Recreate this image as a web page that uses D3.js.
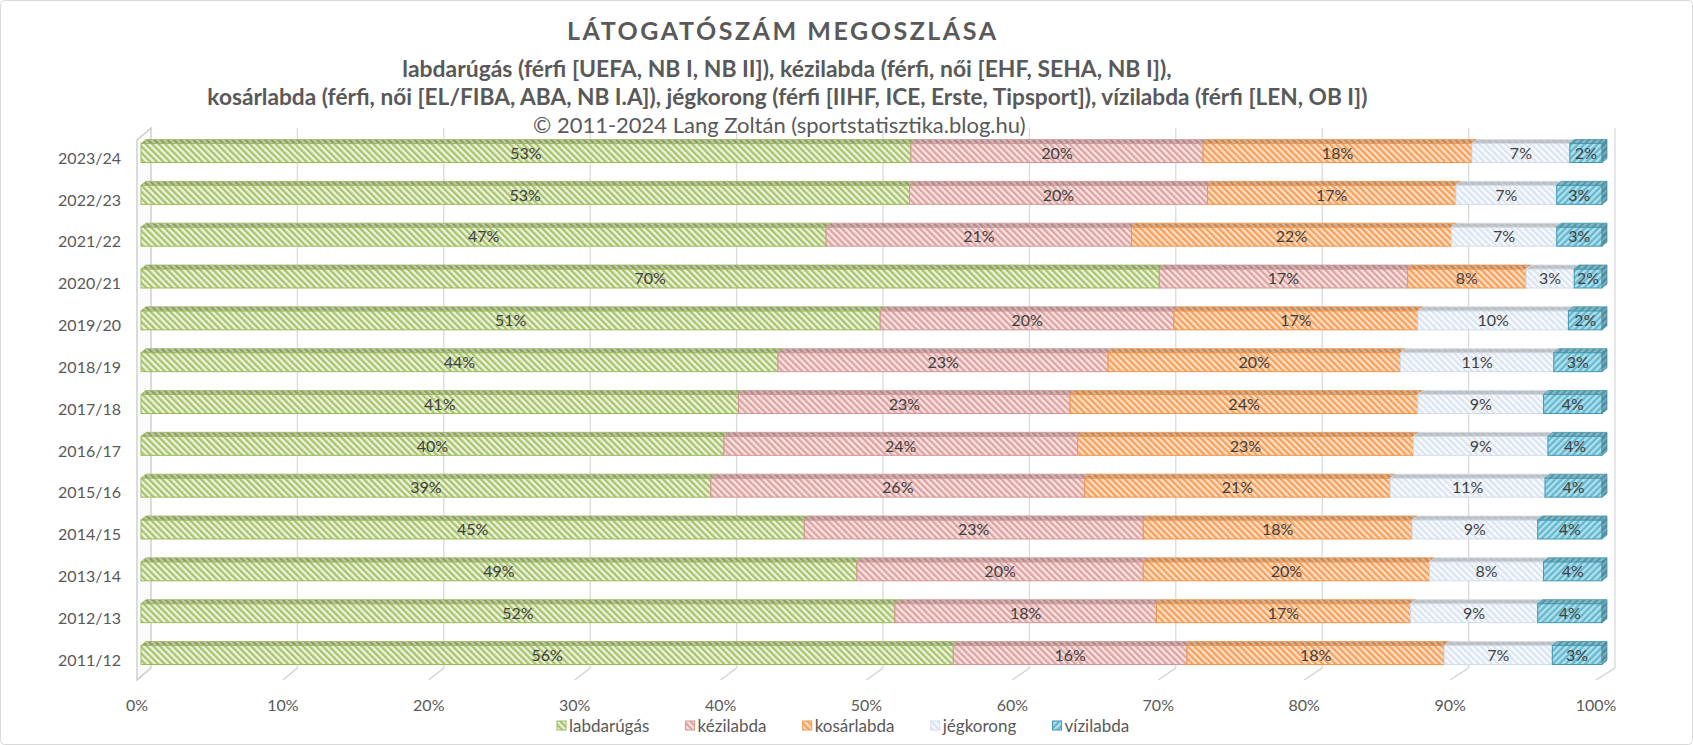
<!DOCTYPE html>
<html><head><meta charset="utf-8">
<script src="https://cdn.jsdelivr.net/npm/d3@7"></script>
<style>
body{margin:0;background:#fff}
svg{display:block}
text{font-family:Lato,"Open Sans",sans-serif}
</style>
</head><body>
<svg id="c" width="1693" height="745"></svg>
<script>
// ---------- data ----------
const seasons = ["2023/24","2022/23","2021/22","2020/21","2019/20","2018/19","2017/18","2016/17","2015/16","2014/15","2013/14","2012/13","2011/12"];
const seriesNames = ["labdarúgás","kézilabda","kosárlabda","jégkorong","vízilabda"];
const labdarugas = [52.7,52.6,46.9,69.7,50.6,43.6,40.9,39.9,39.0,45.4,49.0,51.6,55.6];
const kezilabda  = [20.0,20.4,20.9,17.0,20.1,22.6,22.7,24.2,25.6,23.2,19.6,17.9,16.0];
const kosarlabda = [18.4,17.0,21.9, 8.1,16.7,20.0,23.8,23.0,20.9,18.4,19.6,17.4,17.6];
const jegkorong  = [ 6.7, 6.9, 7.2, 3.3,10.3,10.5, 8.6, 9.2,10.6, 8.6, 7.8, 8.7, 7.4];
const vizilabda  = [ 2.2, 3.1, 3.1, 1.9, 2.3, 3.3, 4.0, 3.7, 3.9, 4.4, 4.0, 4.4, 3.4];
const xTicks = [0,10,20,30,40,50,60,70,80,90,100];
const titleText = "LÁTOGATÓSZÁM MEGOSZLÁSA";
const subtitle1 = "labdarúgás (férfi [UEFA, NB I, NB II]), kézilabda (férfi, női [EHF, SEHA, NB I]),";
const subtitle2 = "kosárlabda (férfi, női [EL/FIBA, ABA, NB I.A]), jégkorong (férfi [IIHF, ICE, Erste, Tipsport]), vízilabda (férfi [LEN, OB I])";
const copyright = "© 2011-2024 Lang Zoltán (sportstatisztika.blog.hu)";

// ---------- styles ----------
const styles = [
  {bg:"#edf3e0", fg:"#a7c46a", stroke:"#9bbb59", angle:-45},
  {bg:"#f8e3e2", fg:"#dca3a1", stroke:"#d39795", angle:-45},
  {bg:"#fde0c8", fg:"#f7a05a", stroke:"#f3954a", angle:-45},
  {bg:"#f8fafd", fg:"#dbe5f1", stroke:"#d3dcea", angle:-45},
  {bg:"#62b8d0", fg:"#b4e0ec", stroke:"#3f98b0", angle:45}
];

const W = 1693, H = 745;
const svg = d3.select("#c");
const defs = svg.append("defs");
styles.forEach((s,i)=>{
  const size = 4.6;
  const p = defs.append("pattern").attr("id","pat"+i)
    .attr("patternUnits","userSpaceOnUse").attr("width",size).attr("height",size)
    .attr("patternTransform",`rotate(${s.angle})`);
  p.append("rect").attr("width",size).attr("height",size).attr("fill",s.bg);
  p.append("rect").attr("width",size/2).attr("height",size).attr("fill",s.fg);
});

svg.append("rect").attr("x",0.5).attr("y",0.5).attr("width",W-1).attr("height",H-1)
  .attr("rx",4).attr("fill","#fff").attr("stroke","#d9d9d9");

// ---------- scales ----------
const depthX = 14, depthY = 12;
const floorY = 680, wallTop = 128;
const xFront = d3.scaleLinear().domain([0,100]).range([137,1596]);
const xBack  = d3.scaleLinear().domain([0,100]).range([137+depthX,1596+depthX+5]);
const xBar   = d3.scaleLinear().domain([0,100]).range([141,1602]);
const y = d3.scaleBand().domain(seasons).range([132.1,675.9]).paddingInner(0.546).paddingOuter(0.273);
const bdx = 5, bdy = 4;

// ---------- walls / gridlines ----------
const g = svg.append("g");
g.append("path")
  .attr("d",`M${xFront(0)},${floorY}V${wallTop+depthY}L${xBack(0)},${wallTop}V${floorY-depthY}Z`)
  .attr("fill","#fbfbfb").attr("stroke","#c9c9c9").attr("stroke-width",1.3);
xTicks.forEach(t=>{
  if (t>0) g.append("line").attr("x1",xBack(t)).attr("x2",xBack(t))
    .attr("y1",wallTop).attr("y2",floorY-depthY).attr("stroke","#d9d9d9").attr("stroke-width",1.3);
  g.append("line").attr("x1",xBack(t)).attr("y1",floorY-depthY)
    .attr("x2",xFront(t)).attr("y2",floorY).attr("stroke","#d0d0d0").attr("stroke-width",1.3);
});

// ---------- bars ----------
const table = seasons.map((s,i)=>({season:s, "labdarúgás":labdarugas[i], "kézilabda":kezilabda[i],
  "kosárlabda":kosarlabda[i], "jégkorong":jegkorong[i], "vízilabda":vizilabda[i]}));
const stacked = d3.stack().keys(seriesNames)(table);

const bars = svg.append("g");
seasons.forEach((s,ri)=>{
  const y0 = y(s), bh = y.bandwidth();
  stacked.forEach((layer,li)=>{
    const d = layer[ri];
    const x0 = xBar(d[0]), x1 = xBar(d[1]);
    const st = styles[li];
    bars.append("rect").attr("x",x0).attr("y",y0).attr("width",x1-x0).attr("height",bh)
      .attr("fill",`url(#pat${li})`).attr("stroke",st.stroke).attr("stroke-width",1);
    const top = `M${x0},${y0}L${x0+bdx},${y0-bdy}L${x1+bdx},${y0-bdy}L${x1},${y0}Z`;
    bars.append("path").attr("d",top).attr("fill",`url(#pat${li})`);
    bars.append("path").attr("d",top).attr("fill",li===3?"#8c8c8c":"#000").attr("fill-opacity",li===3?0.45:0.18)
      .attr("stroke",st.stroke).attr("stroke-width",0.8);
    if (li===seriesNames.length-1){
      const side = `M${x1},${y0}L${x1+bdx},${y0-bdy}L${x1+bdx},${y0+bh-bdy}L${x1},${y0+bh}Z`;
      bars.append("path").attr("d",side).attr("fill",`url(#pat${li})`);
      bars.append("path").attr("d",side).attr("fill","#000").attr("fill-opacity",0.25)
        .attr("stroke",st.stroke).attr("stroke-width",0.8);
    }
  });
});

// data labels
const labels = svg.append("g").attr("font-size",16).attr("fill","#404040").attr("text-anchor","middle");
seasons.forEach((s,ri)=>{
  stacked.forEach((layer,li)=>{
    const d = layer[ri];
    labels.append("text").attr("x",(xBar(d[0])+xBar(d[1]))/2)
      .attr("y",y(s)+y.bandwidth()/2).attr("dy","0.36em")
      .text(Math.round(d[1]-d[0])+"%");
  });
});

// category labels
const cat = svg.append("g").attr("font-size",16).attr("fill","#595959").attr("text-anchor","end");
seasons.forEach(s=>{
  cat.append("text").attr("x",121).attr("y",y(s)+y.bandwidth()/2+5).attr("dy","0.36em").text(s);
});

// x tick labels
const xt = svg.append("g").attr("font-size",16).attr("fill","#595959").attr("text-anchor","middle");
xTicks.forEach(t=>{
  xt.append("text").attr("x",xFront(t)).attr("y",705).attr("dy","0.36em").text(t+"%");
});

// ---------- titles ----------
function placeSub(sel, fromStr, toStr, x0, x1){
  const txt = sel.text();
  const a = txt.indexOf(fromStr), b = txt.indexOf(toStr, a);
  const node = sel.node();
  const fs = parseFloat(sel.attr("font-size"));
  const sub = node.getSubStringLength(a, b-a);
  sel.attr("font-size", fs*(x1-x0)/sub);
  const pre = a>0 ? node.getSubStringLength(0, a) : 0;
  sel.attr("x", x0 - pre);
}
const t0 = svg.append("text").attr("x",567).attr("y",40).attr("text-anchor","start")
  .attr("font-size",25).attr("font-weight","bold").attr("fill","#595959").attr("letter-spacing",2).text(titleText);
{
  const node = t0.node();
  const w = node.getSubStringLength(0, titleText.length);
  const ls = 2 + (431 - w)/(titleText.length-1);
  t0.attr("letter-spacing",ls);
}
const t1 = svg.append("text").attr("y",77).attr("text-anchor","start")
  .attr("font-size",18).attr("font-weight","bold").attr("fill","#595959").text(subtitle1);
placeSub(t1,"(férfi [UEFA","SEHA",518,1038);
const t2 = svg.append("text").attr("y",105).attr("text-anchor","start")
  .attr("font-size",18).attr("font-weight","bold").attr("fill","#595959").text(subtitle2);
placeSub(t2,"ABA","Tipsport",520,993);
const t3 = svg.append("text").attr("y",133).attr("text-anchor","start")
  .attr("font-size",18).attr("fill","#595959").text(copyright);
placeSub(t3,"©",")",533,1020);

// ---------- legend ----------
const lg = svg.append("g").attr("font-size",17).attr("fill","#595959");
let lx = 557;
seriesNames.forEach((n,i)=>{
  lg.append("rect").attr("x",lx).attr("y",721).attr("width",9).attr("height",9)
    .attr("fill",`url(#pat${i})`).attr("stroke",styles[i].stroke).attr("stroke-width",1);
  const tx = lg.append("text").attr("x",lx+12).attr("y",726).attr("dy","0.36em").text(n);
  lx += 12 + tx.node().getComputedTextLength() + 36.3;
});
</script>
</body></html>
